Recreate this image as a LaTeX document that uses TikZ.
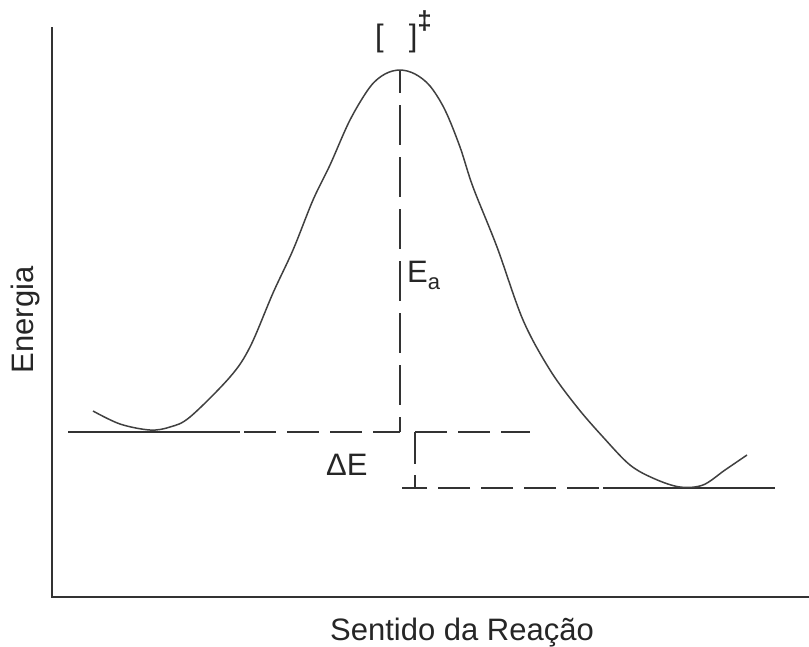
\documentclass[tikz,border=0pt]{standalone}
\usepackage{fontspec}
\setmainfont{Liberation Sans}
\begin{document}
\begin{tikzpicture}[x=1pt,y=-1pt,line cap=butt,
  axis/.style={line width=1.8pt,draw=black!80},
  level/.style={line width=1.8pt,draw=black!80},
  guide/.style={line width=1.8pt,draw=black!80,dash pattern=on 32pt off 11pt},
  curve/.style={line width=1.5pt,draw=black!75},
  lbl/.style={font=\fontsize{31}{37}\selectfont,text=black!85,inner sep=0pt}]
\useasboundingbox (0,0) rectangle (809,646);
% axes
\coordinate (ytop) at (52,27);
\coordinate (orig) at (52,597);
\coordinate (xend) at (809,597);
\draw[axis] (ytop) -- (orig) -- (xend);
% reactant level
\coordinate (r0) at (68,432);
\coordinate (r1) at (240,432);
\coordinate (rts) at (400,432);
\draw[level] (r0) -- (r1);
\draw[guide,dash phase=39pt] (r1) -- (rts);
% activation energy guide
\coordinate (peak) at (400,70);
\draw[guide,dash pattern=on 40pt off 12pt,dash phase=17pt] (peak) -- (rts);
% delta E bracket
\coordinate (c0) at (415,432);
\coordinate (c1) at (530,432);
\coordinate (c2) at (415,488);
\draw[guide] (c0) -- (c1);
\draw[guide] (c0) -- (c2);
% product level
\coordinate (p0) at (402,488);
\coordinate (p1) at (603,488);
\coordinate (p2) at (775,488);
\draw[guide,dash phase=39pt] (p1) -- (p0);
\draw[level] (p1) -- (p2);
% energy curve
\draw[curve] plot[smooth,tension=0.55] coordinates {
 (93,411) (120,424) (150,430) (170,427) (190,417) (230,377) (250,347)
 (273,293) (293,250) (313,200) (330,165) (350,120) (370,87) (385,74)
 (400,70) (415,74) (430,86) (445,110) (460,147) (473,187) (497,247)
 (523,320) (550,370) (577,407) (603,437) (630,465) (655,479) (680,487)
 (703,485) (725,470) (747,455)};
% labels
\node[lbl,anchor=base] (xlab) at (462,640) {Sentido da Reação};
\node[lbl,rotate=90,anchor=base] (ylab) at (34,320) {Energia};
\node[lbl,anchor=base west] (ea) at (407,282) {E\raisebox{-7pt}{\fontsize{22}{22}\selectfont a}};
\node[lbl,anchor=base west] (de) at (326,475) {ΔE};
\node[lbl,anchor=base west] (ts) at (375,46) {[\hspace{25pt}]\raisebox{17pt}{\fontsize{26}{26}\selectfont\bfseries ‡}};
\end{tikzpicture}
\end{document}
